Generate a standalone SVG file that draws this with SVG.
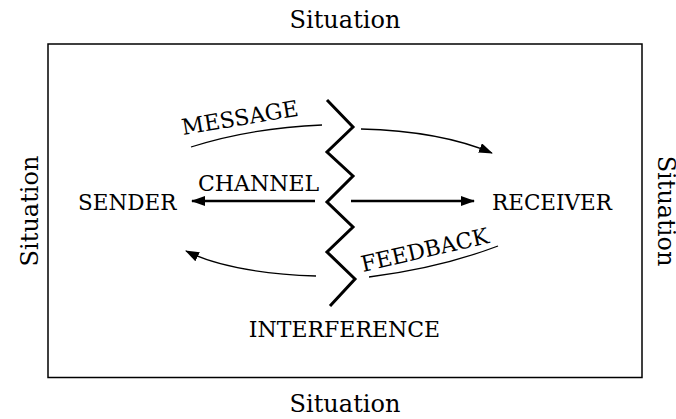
<svg xmlns="http://www.w3.org/2000/svg" width="676" height="419" viewBox="0 0 676 419">
  <style>
    text { font-family: "DejaVu Serif", "Liberation Serif", serif; fill: #000; }
    .sit { font-size: 24px; text-anchor: middle; }
    .node { font-size: 21.5px; }
    .lbl { font-size: 22px; }
    .thin { fill: none; stroke: #000; stroke-width: 1.3; }
    .thick { fill: none; stroke: #000; stroke-width: 2.6; }
  </style>
  <defs>
    <marker id="ah" viewBox="0 0 14 10" refX="13" refY="5" markerWidth="14" markerHeight="10" markerUnits="userSpaceOnUse" orient="auto">
      <path d="M0,0 L14,5 L0,10 Z" fill="#000"/>
    </marker>
  </defs>
  <rect x="0" y="0" width="676" height="419" fill="#fff"/>

  <g id="situation-box">
    <rect x="48" y="44" width="594" height="333.5" fill="none" stroke="#000" stroke-width="1.5"/>
  </g>
  <g id="situation-top"><text class="sit" x="345" y="28">Situation</text></g>
  <g id="situation-bottom"><text class="sit" x="345" y="412">Situation</text></g>
  <g id="situation-left"><text class="sit" transform="translate(38,211) rotate(-90)">Situation</text></g>
  <g id="situation-right"><text class="sit" transform="translate(658,211) rotate(90)">Situation</text></g>

  <g id="sender"><text class="node" x="78" y="210">SENDER</text></g>
  <g id="receiver"><text class="node" x="492" y="210">RECEIVER</text></g>
  <g id="interference">
    <polyline points="327,100 353,127 327,152 353,176 327,202 353,227 327,252 355,279 330,306" fill="none" stroke="#000" stroke-width="3" stroke-linejoin="miter"/>
    <text class="lbl" x="344.5" y="337" text-anchor="middle">INTERFERENCE</text>
  </g>

  <g id="connectors">
    <path class="thin" d="M191,147 Q250,128 322,125"/>
    <path class="thin" d="M361,129 Q440,131 492,153" marker-end="url(#ah)"/>
    <path class="thick" d="M315,201 L192,201" marker-end="url(#ah)"/>
    <path class="thick" d="M351,201 L474,201" marker-end="url(#ah)"/>
    <path class="thin" d="M369,277 Q440,268 498,246"/>
    <path class="thin" d="M316,276 Q230,273 186,251" marker-end="url(#ah)"/>
  </g>

  <g id="labels">
    <text class="lbl" transform="translate(183,135) rotate(-9.5)" font-size="23">MESSAGE</text>
    <text class="lbl" x="198" y="191" font-size="23.5">CHANNEL</text>
    <text class="lbl" transform="translate(363,272) rotate(-13)">FEEDBACK</text>
  </g>
</svg>
